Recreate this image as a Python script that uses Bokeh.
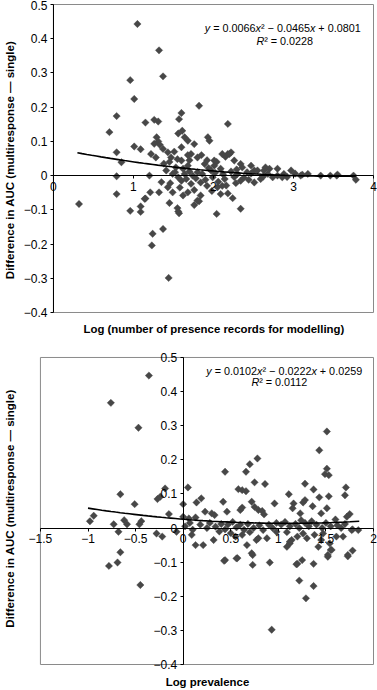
import numpy as np
from bokeh.plotting import figure
from bokeh.layouts import column
from bokeh.models import LinearAxis, FixedTicker, CustomJSTickFormatter, Label, Range1d, Title
from bokeh.embed import file_html
from bokeh.resources import INLINE

# ---------------- data: top panel ----------------
top_x = [0.32, 0.70, 0.79, 0.79, 0.79, 0.79, 0.85, 0.96, 0.96, 1.01,
         1.01, 1.05, 1.09, 1.09, 1.09, 1.15, 1.15, 1.20, 1.21, 1.23,
         1.24, 1.26, 1.31, 1.32, 1.37, 1.37, 1.44, 1.45, 1.55, 1.56,
         1.57, 1.57, 1.60, 1.76, 1.82, 1.82, 2.04, 2.18, 2.18, 2.24,
         2.34, 1.56, 1.61, 1.64, 1.68, 1.93, 1.95, 1.29, 1.31, 1.33,
         1.26, 1.37, 1.22, 1.28, 1.43, 1.47, 1.51, 1.60, 1.76, 1.72,
         1.80, 1.68, 1.60, 1.53, 1.68, 1.89, 2.01, 2.18, 2.15, 2.22,
         2.11, 2.01, 1.41, 1.49, 1.64, 1.80, 1.97, 2.09, 1.35, 1.43,
         1.32, 1.49, 1.60, 1.72, 1.84, 1.68, 1.84, 2.05, 1.14, 1.80,
         2.26, 2.20, 2.36, 2.47, 2.51, 2.63, 2.70, 2.80, 2.88, 2.97,
         3.09, 3.18, 3.34, 3.46, 3.54, 3.75, 3.78, 2.59, 2.51, 2.34,
         2.16, 2.09, 2.74, 2.86, 2.80, 2.65, 2.55, 2.47, 2.34, 1.52,
         1.56, 1.62, 1.66, 1.70, 1.74, 1.78, 1.86, 1.90, 1.94, 1.99,
         2.02, 2.06, 2.12, 2.14, 2.22, 2.26, 2.29, 2.38, 2.42, 1.46,
         1.58, 1.62, 1.76, 1.92, 1.98, 2.11, 2.28, 2.44, 1.38, 1.45,
         1.55, 1.70, 1.85, 1.92, 2.04, 2.30, 2.62, 2.68, 2.92, 3.02,
         3.11, 3.55]
top_y = [-0.083, 0.127, 0.174, 0.068, -0.002, -0.054, 0.039, 0.279, -0.103, 0.224,
         0.085, 0.443, 0.077, -0.090, -0.106, 0.155, -0.067, 0.000, -0.049, -0.204,
         -0.170, 0.163, 0.158, 0.366, 0.290, -0.156, -0.299, -0.080, -0.095, -0.105,
         -0.110, 0.165, 0.183, -0.086, 0.204, -0.075, -0.112, 0.151, -0.052, -0.066,
         -0.097, 0.123, 0.131, 0.112, 0.102, 0.112, 0.102, 0.112, 0.100, 0.090,
         0.093, 0.078, 0.063, 0.053, 0.068, 0.053, 0.070, 0.083, 0.092, 0.063,
         0.053, 0.060, 0.044, 0.024, 0.029, 0.034, 0.029, 0.063, 0.055, 0.068,
         0.063, 0.044, 0.015, 0.005, 0.005, 0.010, 0.015, 0.020, -0.019, -0.034,
         -0.049, -0.049, -0.015, -0.024, -0.020, -0.049, -0.058, -0.034, -0.068, -0.073,
         0.044, 0.063, 0.024, 0.029, 0.015, 0.015, 0.020, 0.000, 0.005, 0.015,
         0.000, 0.005, 0.000, 0.000, 0.000, 0.000, -0.012, -0.010, -0.020, -0.015,
         -0.029, -0.054, -0.005, -0.005, 0.020, 0.024, 0.015, 0.006, 0.034, 0.010,
         -0.005, 0.020, -0.010, 0.012, 0.000, -0.008, 0.005, -0.012, 0.022, -0.005,
         0.008, -0.018, 0.004, -0.010, 0.012, -0.004, 0.018, -0.006, 0.010, -0.022,
         -0.035, -0.058, -0.042, -0.030, -0.045, -0.030, -0.022, -0.012, 0.035, 0.040,
         0.048, 0.045, 0.060, 0.045, 0.040, 0.005, -0.003, 0.005, -0.004, 0.006,
         0.003, 0.003]
top_coef = [0.0066, -0.0465, 0.0801]
top_fit_span = [0.30, 3.78]
top_x_ticks = [0, 1, 2, 3, 4]
top_y_ticks = [-0.4, -0.3, -0.2, -0.1, 0, 0.1, 0.2, 0.3, 0.4, 0.5]
top_eq = "y = 0.0066x² − 0.0465x + 0.0801"
top_r2 = "R² = 0.0228"
top_xtitle = "Log (number of presence records for modelling)"

# ---------------- data: bottom panel ----------------
bot_x = [-0.36, -0.76, -0.47, -0.66, -0.51, -0.19, -0.27, -0.24, 0.05, 0.00,
         -0.15, -0.94, -0.98, -0.73, -0.62, -0.59, -0.46, -0.44, -0.68, -0.66,
         -0.28, -0.22, -0.07, 0.00, -0.78, -0.69, -0.45, 0.43, 0.57, 0.73,
         0.73, 0.91, 0.93, 1.20, 1.25, 1.37, 1.22, 1.29, 1.37, 1.52,
         1.73, 0.09, 0.13, 0.21, 0.32, 0.67, 0.72, 0.77, 1.09, 1.12,
         1.14, 1.42, 1.56, 1.68, 1.78, 1.84, 1.78, 0.78, 0.70, 0.66,
         0.44, 0.75, 0.86, 0.58, 0.62, 0.66, 0.14, 0.19, 0.42, 0.46,
         0.72, 0.75, 0.79, 0.83, 0.85, 0.60, 0.62, 0.96, 0.23, 0.30,
         0.33, 0.13, 0.06, 0.34, 0.40, 0.44, 0.47, 0.52, 0.56, 0.60,
         0.64, 0.68, 0.74, 0.80, 0.84, 0.90, 0.94, 0.38, 0.50, 0.55,
         0.62, 0.70, 0.88, 0.79, 0.44, 0.56, 1.51, 1.43, 1.51, 1.49,
         1.53, 1.28, 1.37, 1.11, 1.43, 1.53, 1.71, 1.70, 1.16, 1.15,
         1.28, 1.26, 1.36, 1.51, 1.45, 1.23, 1.75, 1.72, 1.60, 1.24,
         0.98, 1.03, 1.07, 1.12, 1.18, 1.22, 1.28, 1.32, 1.35, 1.40,
         1.46, 1.50, 1.55, 1.62, 1.66, 1.70, 0.98, 1.09, 1.12, 1.26,
         1.47, 1.54, 1.61, 1.77, 1.52, 1.55, 1.73, 1.19, 1.30, 1.38,
         1.45, 1.20, 0.02, 0.07, 0.10, 0.18, 0.25, 0.28]
bot_y = [0.447, 0.367, 0.294, 0.099, 0.070, 0.116, 0.085, 0.092, 0.119, 0.070,
         0.041, 0.036, 0.020, 0.011, 0.023, 0.011, 0.011, 0.020, -0.011, -0.071,
         -0.016, -0.025, -0.011, 0.033, -0.111, -0.101, -0.167, -0.096, -0.088, -0.079,
         -0.108, -0.101, -0.298, -0.105, -0.094, -0.105, -0.154, -0.206, -0.170, -0.084,
         -0.083, -0.020, -0.050, -0.050, -0.035, -0.050, -0.074, -0.035, -0.055, -0.045,
         -0.035, -0.055, -0.064, -0.025, -0.066, -0.006, -0.004, 0.204, 0.187, 0.165,
         0.165, 0.134, 0.129, 0.114, 0.111, 0.108, 0.075, 0.087, 0.077, 0.048,
         0.077, 0.062, 0.053, 0.050, 0.040, 0.053, 0.060, 0.072, 0.048, 0.043,
         0.038, 0.031, 0.028, 0.004, 0.012, -0.004, 0.010, 0.018, 0.002, 0.010,
         -0.005, 0.012, 0.000, 0.008, -0.006, 0.010, 0.000, -0.010, -0.015, -0.025,
         -0.020, -0.012, -0.030, -0.030, -0.094, -0.089, 0.283, 0.228, 0.174, 0.158,
         0.155, 0.130, 0.113, 0.099, 0.090, 0.093, 0.119, 0.096, 0.072, 0.058,
         0.082, 0.075, 0.064, 0.058, 0.043, 0.043, 0.041, 0.033, 0.025, 0.023,
         0.015, 0.010, 0.018, 0.005, 0.012, 0.000, 0.015, 0.005, 0.020, 0.010,
         0.000, 0.015, 0.005, 0.008, 0.000, 0.012, -0.011, -0.012, -0.040, -0.016,
         -0.016, -0.045, -0.025, -0.006, -0.079, -0.064, -0.079, -0.106, -0.030, -0.020,
         -0.035, -0.025, 0.005, 0.015, -0.005, 0.010, 0.000, 0.015]
bot_coef = [0.0102, -0.0222, 0.0259]
bot_fit_span = [-1.00, 1.85]
bot_x_ticks = [-1.5, -1, -0.5, 0, 0.5, 1, 1.5, 2]
bot_y_ticks = [-0.4, -0.3, -0.2, -0.1, 0, 0.1, 0.2, 0.3, 0.4, 0.5]
bot_eq = "y = 0.0102x² − 0.0222x + 0.0259"
bot_r2 = "R² = 0.0112"
bot_xtitle = "Log prevalence"

y_title = "Difference in AUC (multiresponse — single)"

FONT = "Liberation Sans"
PT_COLOR = "#474747"
BOX_COLOR = "#8a8a8a"
FIG_W, FIG_H = 377, 345
TITLE_SIZE = 11.4
EQ_SIZE = 10.8

fmt_code = """
if (Math.abs(tick) < 1e-9) { return "0"; }
var s = String(Math.round(tick * 10) / 10);
return s.replace("-", "\\u2212");
"""


def style_axis(ax, ticks):
    ax.ticker = FixedTicker(ticks=ticks)
    ax.formatter = CustomJSTickFormatter(code=fmt_code)
    ax.bounds = (min(ticks), max(ticks))
    ax.axis_line_color = "black"
    ax.axis_line_width = 1
    ax.major_tick_line_color = "black"
    ax.major_tick_out = 3
    ax.major_tick_in = 0
    ax.minor_tick_line_color = None
    ax.major_label_text_font = FONT
    ax.major_label_text_font_size = "12px"
    ax.major_label_text_color = "black"
    ax.major_label_standoff = 3


def title_axis(label, standoff, bounds):
    ax = LinearAxis(ticker=FixedTicker(ticks=[]), axis_label=label, bounds=bounds)
    ax.axis_line_color = None
    ax.major_tick_line_color = None
    ax.minor_tick_line_color = None
    ax.major_tick_out = 0
    ax.major_tick_in = 0
    ax.major_label_standoff = 0
    ax.axis_label_standoff = standoff
    ax.axis_label_text_font = FONT
    ax.axis_label_text_font_style = "bold"
    ax.axis_label_text_font_size = "11.5px"
    ax.axis_label_text_color = "black"
    return ax


# advance widths (em) of Arial / Liberation Sans, regular and bold
EM = {"0": .556, "1": .556, "2": .556, "3": .556, "4": .556, "5": .556, "6": .556,
      "7": .556, "8": .556, "9": .556, ".": .278, " ": .278, "=": .584, "+": .584,
      "−": .584, "x": .5, "y": .5, "R": .722, "²": .333}
EM_BOLD = {"L": .611, "o": .611, "g": .611, " ": .278, "(": .333, ")": .333, "n": .611,
           "u": .611, "m": .889, "b": .611, "e": .556, "r": .389, "f": .333, "p": .611,
           "s": .556, "c": .556, "d": .611, "l": .278, "i": .278, "v": .556, "a": .556}


def em_width(s, table=EM):
    return sum(table.get(c, .556) for c in s)


def equation_segments(text):
    segs, cur = [], ""
    for ch in text:
        if ch in "xyR":
            if cur:
                segs.append((cur, "normal"))
                cur = ""
            segs.append((ch, "italic"))
        else:
            cur += ch
    if cur:
        segs.append((cur, "normal"))
    return segs


def add_equation(p, x, y, text, size):
    off = -em_width(text) * size / 2.0
    for s, style in equation_segments(text):
        lead = len(s) - len(s.lstrip(" "))
        core = s.strip(" ")
        trail = len(s) - lead - len(core)
        off += lead * EM[" "] * size
        p.add_layout(Label(x=x, y=y, x_offset=off, text=core, text_font=FONT,
                           text_font_style=style, text_font_size=f"{size}px",
                           text_color="black", text_align="left",
                           text_baseline="alphabetic"))
        off += em_width(core) * size + trail * EM[" "] * size


def make_panel(xr, yr, xs, ys, coef, span, xticks, yticks, xtitle, eq, r2,
               eq_pos, r2_pos, border, xtitle_standoff, ytitle_standoff):
    p = figure(width=FIG_W, height=FIG_H, x_range=Range1d(*xr), y_range=Range1d(*yr),
               output_backend="svg", toolbar_location=None,
               x_axis_location=None, y_axis_location=None,
               min_border_left=border[0], min_border_right=border[1],
               min_border_top=border[2], min_border_bottom=border[3])
    p.xgrid.visible = False
    p.ygrid.visible = False
    p.outline_line_color = None
    p.background_fill_color = "white"
    p.border_fill_color = "white"

    # plot-area box
    p.quad(left=[min(xticks)], right=[max(xticks)], bottom=[min(yticks)], top=[max(yticks)],
           fill_color=None, line_color=BOX_COLOR, line_width=1)

    yax = LinearAxis(fixed_location=0)
    style_axis(yax, yticks)
    p.add_layout(yax, "left")
    p.add_layout(title_axis(y_title, ytitle_standoff, (min(yticks), max(yticks))), "left")

    xax = LinearAxis(fixed_location=0)
    style_axis(xax, xticks)
    p.add_layout(xax, "below")

    # x title centred under the plot box (the frame is wider than the box)
    frame_w = FIG_W - border[0] - border[1]
    px_per_unit = frame_w / (xr[1] - xr[0])
    box_mid = (min(xticks) + max(xticks)) / 2.0
    box_mid_px = (box_mid - xr[0]) * px_per_unit
    start = box_mid_px - em_width(xtitle, EM_BOLD) * TITLE_SIZE / 2.0
    p.add_layout(Title(text=xtitle, align="left", offset=start,
                       standoff=xtitle_standoff, text_font=FONT,
                       text_font_style="bold", text_font_size=f"{TITLE_SIZE}px",
                       text_color="black"), "below")

    p.scatter(xs, ys, marker="square", angle=np.pi / 4, size=5.2,
              fill_color=PT_COLOR, line_color=PT_COLOR, line_width=0.4)

    fx = np.linspace(span[0], span[1], 60)
    fy = np.polyval(coef, fx)
    p.line(fx, fy, line_color="black", line_width=1.6)

    add_equation(p, eq_pos[0], eq_pos[1], eq, EQ_SIZE)
    add_equation(p, r2_pos[0], r2_pos[1], r2, EQ_SIZE)
    return p


p1 = make_panel((-0.4486, 4.0498), (-0.4205, 0.5117), top_x, top_y, top_coef, top_fit_span,
                top_x_ticks, top_y_ticks, top_xtitle, top_eq, top_r2,
                (2.866, 0.430), (2.891, 0.392), (16, 0, 0, 26), 3, 2)
p2 = make_panel((-1.741, 2.0419), (-0.4205, 0.5351), bot_x, bot_y, bot_coef, bot_fit_span,
                bot_x_ticks, bot_y_ticks, bot_xtitle, bot_eq, bot_r2,
                (1.062, 0.4605), (1.015, 0.427), (16, 0, 0, 18), 5, 2)

layout = column(p1, p2, spacing=0)
html = file_html(layout, INLINE)
with open("out.html", "w", encoding="utf-8") as f:
    f.write(html)
